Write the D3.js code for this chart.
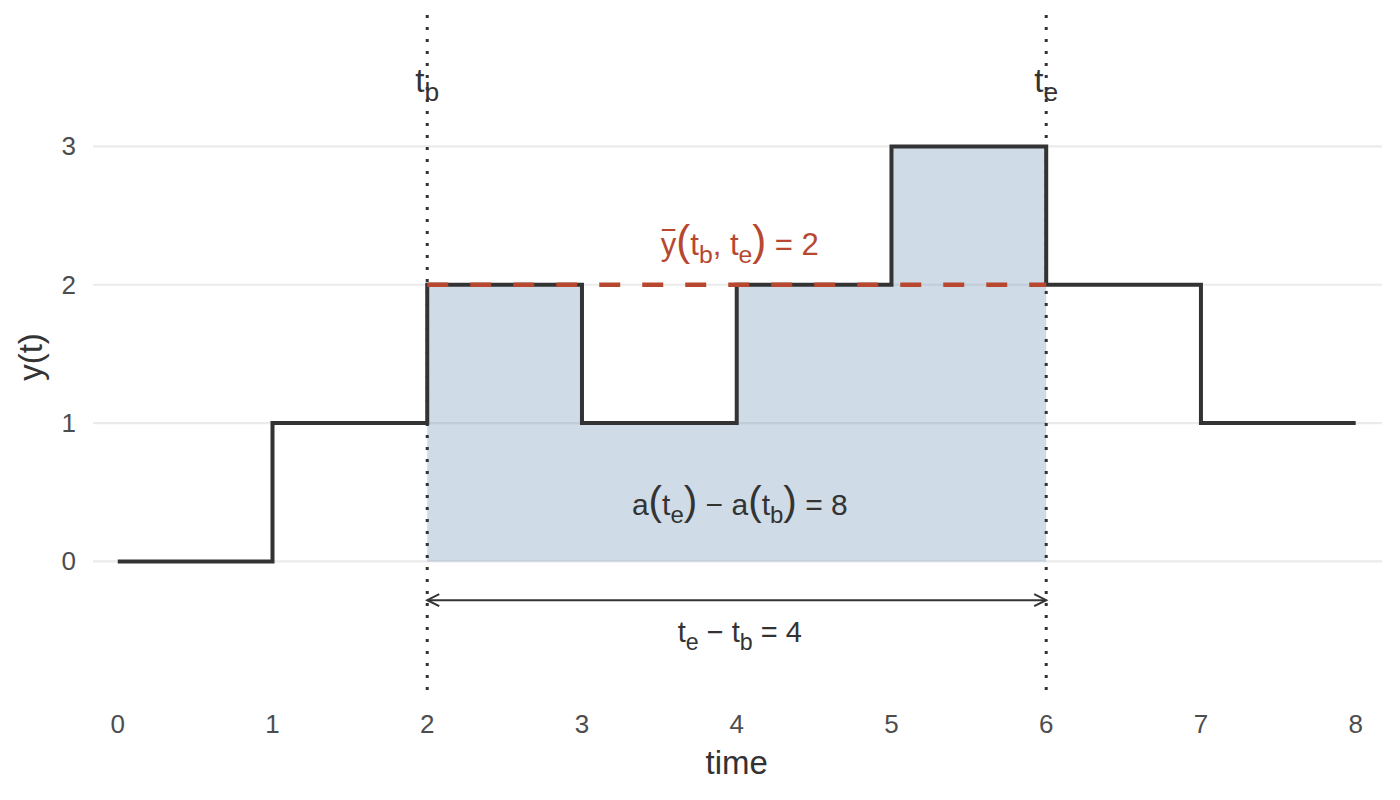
<!DOCTYPE html>
<html>
<head>
<meta charset="utf-8">
<script src="https://cdn.jsdelivr.net/npm/d3@7"></script>
<style>
  body { margin: 0; background: #fff; }
  text { font-family: "Liberation Sans", Arial, sans-serif; }
</style>
</head>
<body>
<div id="chart"></div>
<script>
var w = 1400,
  h = 800;

// step function y(t), held constant until the next time
var times = [0, 1, 2, 3, 4, 5, 6, 7, 8];
var values = [0, 1, 2, 1, 2, 3, 2, 1, 1];
var xTicks = [0, 1, 2, 3, 4, 5, 6, 7, 8];
var yTicks = [0, 1, 2, 3];
var window_bounds = [2, 6]; // t_b, t_e
var window_mean = [2];
var arrow_y = [-0.28];

var x = d3.scaleLinear().domain([-0.16, 8.17]).range([93, 1382]);
var y = d3.scaleLinear().domain([-0.98, 3.95]).range([697, 15]);

var svg = d3
  .select("#chart")
  .append("svg")
  .attr("width", w)
  .attr("height", h);

var dark = "#333333";
var red = "#b7472f";

// gridlines
svg
  .selectAll(".grid")
  .data(yTicks)
  .enter()
  .append("line")
  .attr("x1", x.range()[0])
  .attr("x2", x.range()[1])
  .attr("y1", (d) => y(d))
  .attr("y2", (d) => y(d))
  .attr("stroke", "#ebebeb")
  .attr("stroke-width", 2.2);

// axis labels
svg
  .selectAll(".xtick")
  .data(xTicks)
  .enter()
  .append("text")
  .attr("x", (d) => x(d))
  .attr("y", 733)
  .attr("text-anchor", "middle")
  .attr("fill", "#4d4d4d")
  .style("font-size", "26px")
  .text((d) => d);

svg
  .selectAll(".ytick")
  .data(yTicks)
  .enter()
  .append("text")
  .attr("x", 76)
  .attr("y", (d) => y(d) + 9)
  .attr("text-anchor", "end")
  .attr("fill", "#4d4d4d")
  .style("font-size", "26px")
  .text((d) => d);

svg
  .append("text")
  .attr("x", x(4))
  .attr("y", 774)
  .attr("text-anchor", "middle")
  .attr("fill", dark)
  .style("font-size", "33px")
  .text("time");

svg
  .append("text")
  .attr("transform", "translate(42,357)rotate(-90)")
  .attr("text-anchor", "middle")
  .attr("fill", dark)
  .style("font-size", "33px")
  .text("y(t)");

// shaded area between t_b and t_e
var stepData = times.map((t, i) => ({ t: t, v: values[i] }));
var inWindow = stepData.filter(
  (d) => d.t >= window_bounds[0] && d.t <= window_bounds[1]
);

var area = d3
  .area()
  .curve(d3.curveStepAfter)
  .x((d) => x(d.t))
  .y0(y(0))
  .y1((d) => y(d.v));

svg
  .append("path")
  .datum(inWindow)
  .attr("d", area)
  .attr("fill", "#3f6f9b")
  .attr("fill-opacity", 0.25);

// step line
var line = d3
  .line()
  .curve(d3.curveStepAfter)
  .x((d) => x(d.t))
  .y((d) => y(d.v));

svg
  .append("path")
  .datum(stepData)
  .attr("d", line)
  .attr("fill", "none")
  .attr("stroke", dark)
  .attr("stroke-width", 4);

// mean line
svg
  .append("line")
  .attr("x1", x(window_bounds[0]))
  .attr("x2", x(window_bounds[1]))
  .attr("y1", y(window_mean[0]))
  .attr("y2", y(window_mean[0]))
  .attr("stroke", red)
  .attr("stroke-width", 4.5)
  .attr("stroke-dasharray", "21,22");

// vertical dotted lines
svg
  .selectAll(".vline")
  .data(window_bounds)
  .enter()
  .append("line")
  .attr("x1", (d) => x(d))
  .attr("x2", (d) => x(d))
  .attr("y1", y.range()[1])
  .attr("y2", y.range()[0])
  .attr("stroke", dark)
  .attr("stroke-width", 3)
  .attr("stroke-dasharray", "3,9");

// double headed arrow
var marker = svg
  .append("defs")
  .selectAll("marker")
  .data(["arrow-end"])
  .enter()
  .append("marker")
  .attr("id", (d) => d)
  .attr("markerUnits", "userSpaceOnUse")
  .attr("markerWidth", 16)
  .attr("markerHeight", 16)
  .attr("refX", 13)
  .attr("refY", 8)
  .attr("orient", "auto-start-reverse");

marker
  .append("path")
  .attr("d", "M1,2L13,8L1,14")
  .attr("fill", "none")
  .attr("stroke", dark)
  .attr("stroke-width", 2);

svg
  .append("line")
  .attr("x1", x(window_bounds[0]))
  .attr("x2", x(window_bounds[1]))
  .attr("y1", y(arrow_y[0]))
  .attr("y2", y(arrow_y[0]))
  .attr("stroke", dark)
  .attr("stroke-width", 2)
  .attr("marker-start", "url(#arrow-end)")
  .attr("marker-end", "url(#arrow-end)");

// text with subscripts and tall parentheses
const mathText = (px, py, parts, size, color) => {
  const t = svg
    .append("text")
    .attr("x", px)
    .attr("y", py)
    .attr("text-anchor", "middle")
    .attr("fill", color)
    .style("font-size", size + "px");
  let shift = 0;
  parts.forEach(([s, kind]) => {
    const target = kind === "sub" ? size * 0.27 : 0;
    const ts = t.append("tspan").attr("dy", target - shift).text(s);
    shift = target;
    if (kind === "sub") ts.style("font-size", size * 0.8 + "px");
    if (kind === "paren") ts.style("font-size", size * 1.35 + "px");
  });
  return t;
};

mathText(x(2), 92, [["t"], ["b", "sub"]], 33, dark);
mathText(x(6), 92, [["t"], ["e", "sub"]], 33, dark);

var ybar = mathText(
  x(4.02),
  255,
  [
    ["y"],
    ["(", "paren"],
    ["t"],
    ["b", "sub"],
    [", t"],
    ["e", "sub"],
    [")", "paren"],
    [" = 2"],
  ],
  31,
  red
);
var ext = ybar.node().getExtentOfChar(0);
svg
  .append("line")
  .attr("x1", ext.x + 1)
  .attr("x2", ext.x + ext.width - 1)
  .attr("y1", 230)
  .attr("y2", 230)
  .attr("stroke", red)
  .attr("stroke-width", 2);

mathText(
  x(4.02),
  515,
  [
    ["a"],
    ["(", "paren"],
    ["t"],
    ["e", "sub"],
    [")", "paren"],
    [" \u2212 a"],
    ["(", "paren"],
    ["t"],
    ["b", "sub"],
    [")", "paren"],
    [" = 8"],
  ],
  30,
  dark
);

mathText(
  x(4.02),
  642,
  [["t"], ["e", "sub"], [" \u2212 t"], ["b", "sub"], [" = 4"]],
  29,
  dark
);
</script>
</body>
</html>
